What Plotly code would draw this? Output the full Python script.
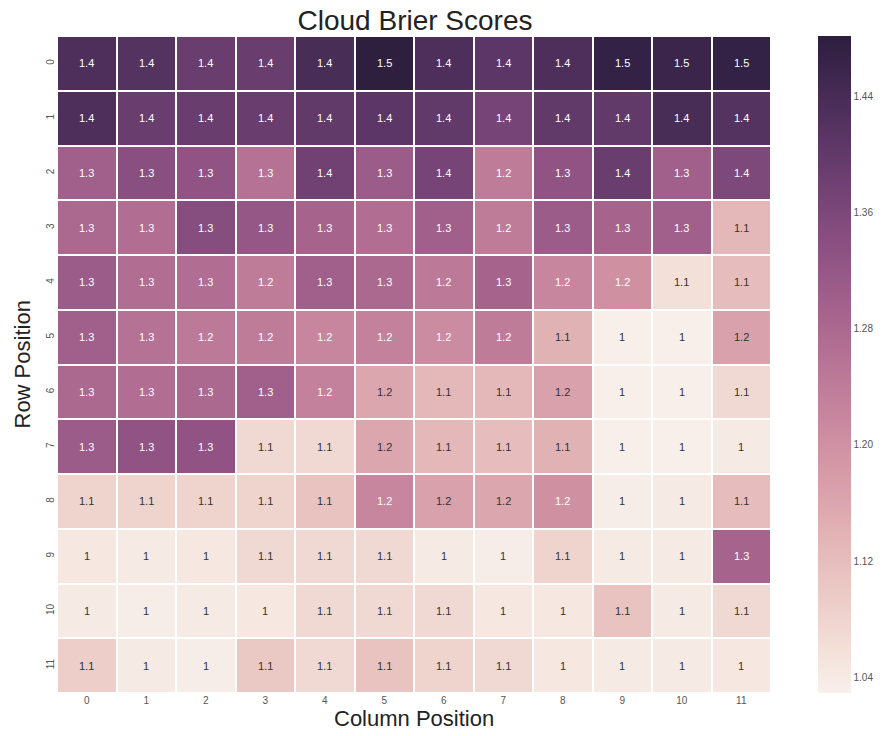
import numpy as np
import plotly.graph_objects as go

# Brier score per grid cell (rows 0-11 top to bottom, columns 0-11)
row_labels = [str(i) for i in range(12)]
col_labels = [str(i) for i in range(12)]

row_0 = [1.43, 1.42, 1.39, 1.39, 1.44, 1.48, 1.43, 1.41, 1.43, 1.47, 1.46, 1.47]
row_1 = [1.43, 1.39, 1.39, 1.39, 1.40, 1.41, 1.40, 1.37, 1.40, 1.40, 1.44, 1.42]
row_2 = [1.30, 1.34, 1.33, 1.26, 1.38, 1.31, 1.37, 1.24, 1.33, 1.39, 1.30, 1.36]
row_3 = [1.28, 1.27, 1.345, 1.32, 1.29, 1.27, 1.30, 1.24, 1.31, 1.29, 1.30, 1.13]
row_4 = [1.31, 1.27, 1.27, 1.24, 1.30, 1.28, 1.245, 1.29, 1.22, 1.20, 1.06, 1.12]
row_5 = [1.30, 1.26, 1.245, 1.24, 1.22, 1.23, 1.21, 1.24, 1.14, 1.03, 1.03, 1.17]
row_6 = [1.28, 1.27, 1.28, 1.30, 1.23, 1.16, 1.13, 1.13, 1.17, 1.03, 1.03, 1.07]
row_7 = [1.31, 1.33, 1.33, 1.07, 1.07, 1.16, 1.13, 1.12, 1.14, 1.03, 1.03, 1.04]
row_8 = [1.08, 1.08, 1.08, 1.08, 1.11, 1.22, 1.17, 1.16, 1.20, 1.035, 1.04, 1.12]
row_9 = [1.045, 1.04, 1.045, 1.07, 1.07, 1.07, 1.04, 1.035, 1.08, 1.04, 1.04, 1.29]
row_10 = [1.04, 1.035, 1.04, 1.045, 1.07, 1.07, 1.07, 1.045, 1.045, 1.11, 1.04, 1.07]
row_11 = [1.09, 1.04, 1.035, 1.10, 1.07, 1.11, 1.08, 1.07, 1.045, 1.04, 1.04, 1.045]

scores = np.array([row_0, row_1, row_2, row_3, row_4, row_5,
                   row_6, row_7, row_8, row_9, row_10, row_11])

cbar_ticks = [1.04, 1.12, 1.20, 1.28, 1.36, 1.44]
z_min, z_max = 1.029, 1.482


def cubehelix_rgb(x, start=0.0, rot=0.4, gamma=1.0, hue=0.8):
    """Cubehelix colour at lightness x (0..1) as an (r, g, b) tuple in 0..1."""
    xg = x ** gamma
    a = hue * xg * (1 - xg) / 2
    phi = 2 * np.pi * (start / 3 + rot * x)
    r = xg + a * (-0.14861 * np.cos(phi) + 1.78277 * np.sin(phi))
    g = xg + a * (-0.29227 * np.cos(phi) - 0.90649 * np.sin(phi))
    b = xg + a * (1.97294 * np.cos(phi))
    return tuple(float(np.clip(c, 0, 1)) for c in (r, g, b))


LIGHT, DARK = 0.95, 0.15


def color_at(t):
    return cubehelix_rgb(LIGHT - t * (LIGHT - DARK))


def to_css(rgb):
    return "rgb(%d,%d,%d)" % tuple(round(c * 255) for c in rgb)


stops = np.linspace(0, 1, 64)
colorscale = [[float(s), to_css(color_at(s))] for s in stops]


def luminance(rgb):
    lin = [c / 12.92 if c <= 0.03928 else ((c + 0.055) / 1.055) ** 2.4 for c in rgb]
    return 0.2126 * lin[0] + 0.7152 * lin[1] + 0.0722 * lin[2]


fig = go.Figure()
fig.add_trace(go.Heatmap(
    z=scores,
    x=list(range(12)),
    y=list(range(12)),
    zmin=z_min,
    zmax=z_max,
    colorscale=colorscale,
    xgap=2,
    ygap=2,
    hoverinfo="z",
    colorbar=dict(
        x=1.0656, xanchor="left", xpad=0,
        y=0.5, yanchor="middle", len=1.0, lenmode="fraction", ypad=0,
        thickness=33, outlinewidth=0,
        tickvals=cbar_ticks,
        ticktext=["%.2f" % v for v in cbar_ticks],
        ticks="", ticklen=0,
        tickfont=dict(family="Liberation Sans, Arial", size=10, color="#555555"),
    ),
))

# cell annotations, coloured for contrast against the cell fill
annotations = []
for i in range(scores.shape[0]):
    for j in range(scores.shape[1]):
        v = scores[i, j]
        t = (v - z_min) / (z_max - z_min)
        txt_color = "#333333" if luminance(color_at(t)) > 0.408 else "#ffffff"
        annotations.append(dict(
            x=j, y=i, xref="x", yref="y", text=f"{v:.2g}", showarrow=False,
            font=dict(family="Liberation Sans, Arial", size=11, color=txt_color),
        ))

annotations.append(dict(
    text="Column Position", x=0.5, y=0, xref="paper", yref="paper",
    xanchor="center", yanchor="middle", yshift=-25, showarrow=False,
    font=dict(family="Liberation Sans, Arial", size=22, color="#222222"),
))
annotations.append(dict(
    text="Row Position", x=0, y=0.5, xref="paper", yref="paper",
    xanchor="center", yanchor="middle", xshift=-35, textangle=-90, showarrow=False,
    font=dict(family="Liberation Sans, Arial", size=22, color="#222222"),
))

fig.update_layout(
    width=883, height=736,
    margin=dict(l=57, r=110, t=36, b=43),
    paper_bgcolor="white", plot_bgcolor="white",
    title=dict(
        text="Cloud Brier Scores", x=0.47, xanchor="center",
        y=1 - 20 / 736, yanchor="middle", yref="container",
        font=dict(family="Liberation Sans, Arial", size=28, color="#222222"),
    ),
    annotations=annotations,
    xaxis=dict(
        tickvals=list(range(12)), ticktext=col_labels, ticks="",
        showgrid=False, zeroline=False, showline=False,
        tickfont=dict(family="Liberation Sans, Arial", size=10, color="#555555"),
        range=[-0.5, 11.5],
    ),
    yaxis=dict(
        tickvals=list(range(12)), ticktext=row_labels, ticks="",
        showgrid=False, zeroline=False, showline=False, tickangle=-90,
        tickfont=dict(family="Liberation Sans, Arial", size=10, color="#555555"),
        range=[11.5, -0.5],
    ),
)

fig.write_html("out.html")
